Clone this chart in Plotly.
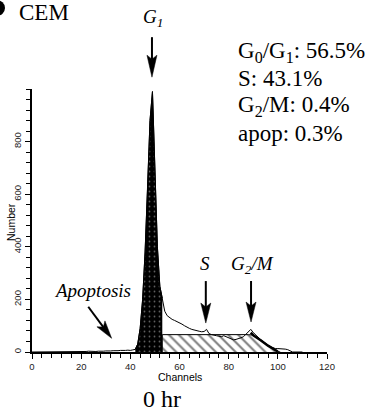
import math
import plotly.graph_objects as go

# ---------------- data ----------------
channels = list(range(0, 111))
counts = [
    0, 0, 0, 0, 0, 0, 1, 0, 0, 1, 0, 0, 1, 0, 0, 1, 0, 1, 0, 1,          # 0-19
    2, 1, 2, 3, 2, 1, 2, 3, 2, 3, 4, 3, 4, 5, 4, 5, 6, 5, 6, 7, 6, 8,    # 20-41
    10, 30, 90, 200, 380, 620, 880, 990, 660, 400, 250, 205,             # 42-53
    155, 138, 130, 124, 120, 116, 112, 106, 100, 94, 90, 86, 83, 81,     # 54-67
    79, 77, 78, 86, 70, 66, 65, 62, 60, 58, 62, 58, 51, 48, 46, 48,      # 68-83
    50, 54, 58, 68, 78, 86, 74, 64, 55, 47, 40, 32, 26, 20, 15, 13,      # 84-99
    13, 13, 12, 11, 9, 4, 0, 0, 0, 0, 0,                                 # 100-110
]
g1_range = (42, 53)                      # channels of the G1 model peak (black)
s_channels = [53, 53, 88, 90, 93, 96, 100, 101]
s_counts = [0, 66, 66, 64, 45, 24, 2, 0]
g2_edge_channels = [89, 90, 93, 96, 100]
g2_edge_counts = [74, 64, 45, 24, 2]
peak_marker_channels = [47.5, 88]

x_ticks = [0, 20, 40, 60, 80, 100, 120]
y_ticks = [0, 200, 400, 600, 800]
X_RANGE = [0, 120]
Y_RANGE = [0, 1000]

stats_lines = ["G<sub>0</sub>/G<sub>1</sub>: 56.5%", "S: 43.1%",
               "G<sub>2</sub>/M: 0.4%", "apop: 0.3%"]

# ---------------- layout geometry ----------------
W_FIG, H_FIG = 371, 415
PL, PT = 32, 89              # plot-area origin in page pixels
PW, PH = 295, 263
L, T = PL, PT
R, B = W_FIG - L - PW, H_FIG - T - PH
SERIF = "Liberation Serif"
SANS = "Liberation Sans"


def px_x(px):
    return (px - PL) / PW


def px_y(py):
    return (PT + PH - py) / PH


def data_px(ch, val):
    return (PL + (ch - X_RANGE[0]) / (X_RANGE[1] - X_RANGE[0]) * PW,
            PT + PH - (val - Y_RANGE[0]) / (Y_RANGE[1] - Y_RANGE[0]) * PH)


fig = go.Figure()

# G1 peak (black fill)
g1_x = [c for c in channels if g1_range[0] <= c <= g1_range[1]]
g1_y = [counts[channels.index(c)] for c in g1_x]
fig.add_trace(go.Scatter(
    x=g1_x, y=g1_y, mode="lines", fill="tozeroy",
    line=dict(color="black", width=1), fillcolor="black",
    fillpattern=dict(shape=".", bgcolor="black", fgcolor="#bbbbbb",
                     size=5, solidity=0.1),
    hoverinfo="skip", showlegend=False))

# S phase (hatched)
fig.add_trace(go.Scatter(
    x=s_channels, y=s_counts, mode="lines", fill="toself",
    line=dict(color="black", width=1),
    fillpattern=dict(shape="\\", fgcolor="black", bgcolor="white",
                     size=7, solidity=0.3),
    hoverinfo="skip", showlegend=False))

# thick G2 boundary
fig.add_trace(go.Scatter(
    x=g2_edge_channels, y=g2_edge_counts, mode="lines",
    line=dict(color="black", width=2.5), hoverinfo="skip", showlegend=False))

# histogram outline
fig.add_trace(go.Scatter(
    x=channels, y=counts, mode="lines",
    line=dict(color="black", width=1), hoverinfo="skip", showlegend=False))

# peak markers under the axis
fig.add_trace(go.Scatter(
    x=peak_marker_channels, y=[-25] * len(peak_marker_channels), mode="markers",
    marker=dict(symbol="triangle-up", size=11, color="black"),
    cliponaxis=False, hoverinfo="skip", showlegend=False))

# ---------------- arrows (pixel-sized shapes anchored in paper coords) ----------------
shapes = []


def arrow(tip_ch, tip_val, dx, dy, head_len=20, head_w=10, notch=4, width=2):
    tx, ty = data_px(tip_ch, tip_val)
    length = math.hypot(dx, dy)
    ux, uy = dx / length, dy / length
    qx, qy = -uy, ux
    b1 = (ux * head_len + qx * head_w / 2, uy * head_len + qy * head_w / 2)
    b2 = (ux * head_len - qx * head_w / 2, uy * head_len - qy * head_w / 2)
    n = (ux * (head_len - notch), uy * (head_len - notch))
    path = (f"M0,0 L{b1[0]:.2f},{b1[1]:.2f} L{n[0]:.2f},{n[1]:.2f} "
            f"L{b2[0]:.2f},{b2[1]:.2f} Z")
    common = dict(xref="paper", yref="paper", xsizemode="pixel", ysizemode="pixel",
                  xanchor=px_x(tx), yanchor=px_y(ty))
    shapes.append(dict(type="path", path=path, fillcolor="black",
                       line=dict(color="black", width=0.5), **common))
    shapes.append(dict(type="line", x0=n[0], y0=n[1], x1=dx, y1=dy,
                       line=dict(color="black", width=width), **common))


arrow(48.8, 1045, 0, 40, head_len=22, head_w=10)      # G1
arrow(70.7, 110, 0, 42, head_len=20, head_w=10)       # S
arrow(89.1, 114, 0, 41, head_len=20, head_w=10)       # G2/M
arrow(32.4, 52, -23.4, 31.6, head_len=18, head_w=10)  # apoptosis

# panel-label blob at the top-left edge
shapes.append(dict(type="circle", xref="paper", yref="paper",
                   x0=px_x(-12), x1=px_x(5), y0=px_y(16), y1=px_y(0),
                   fillcolor="black", line=dict(width=0)))

# ---------------- annotations ----------------
ann = []


def text(s, px, py, size, family=SERIF, xanchor="center", angle=0, italic=False):
    ann.append(dict(text=f"<i>{s}</i>" if italic else s, x=px_x(px), y=px_y(py),
                    xref="paper", yref="paper", showarrow=False,
                    xanchor=xanchor, yanchor="middle", textangle=angle,
                    font=dict(family=family, size=size, color="black")))


text("CEM", 17, 12.5, 23, xanchor="left")
for i, line in enumerate(stats_lines):
    text(line, 236, [52, 78, 106, 133][i], 23, xanchor="left")
text("G<sub>1</sub>", 153, 18, 19, italic=True)
text("S", 205, 263, 19, italic=True)
text("G<sub>2</sub>/M", 252, 265, 19, italic=True)
text("Apoptosis", 92.5, 290, 19, italic=True)
text("Channels", 180, 377, 10.5, family=SANS)
text("Number", 11, 222, 10.5, family=SANS, angle=-90)
text("0 hr", 162, 399, 24)

fig.update_layout(
    width=W_FIG, height=H_FIG,
    margin=dict(l=L, r=R, t=T, b=B, pad=0),
    paper_bgcolor="white", plot_bgcolor="white",
    shapes=shapes, annotations=ann,
    xaxis=dict(range=X_RANGE, tickvals=x_ticks, ticks="outside", ticklen=5,
               tickwidth=1, tickcolor="black", showline=True, linecolor="black",
               linewidth=1.5, showgrid=False, zeroline=False,
               tickfont=dict(family=SANS, size=9.5, color="#222"),
               minor=dict(dtick=4, tick0=0, ticks="outside", ticklen=4,
                          tickcolor="black", tickwidth=1)),
    yaxis=dict(range=Y_RANGE, tickvals=y_ticks, ticks="outside", ticklen=5,
               tickwidth=1, tickcolor="black", showline=True, linecolor="black",
               linewidth=1.5, showgrid=False, zeroline=False, tickangle=-90,
               tickfont=dict(family=SANS, size=9.5, color="#222"),
               minor=dict(dtick=40, tick0=0, ticks="outside", ticklen=4,
                          tickcolor="black", tickwidth=1)),
)

# the html page has a default 8px body margin; remove it so the figure sits at (0,0)
fig.write_html("out.html", config={"displayModeBar": False},
               post_script="document.body.style.margin='0px';")
